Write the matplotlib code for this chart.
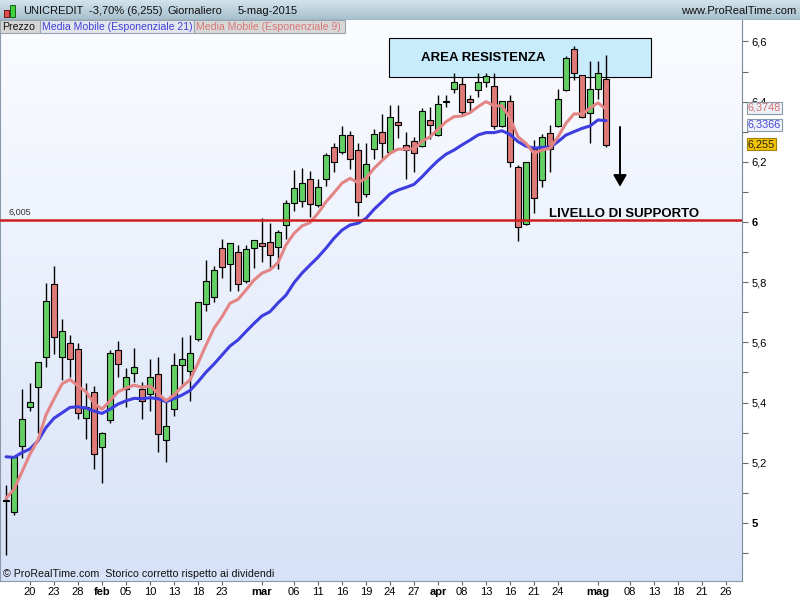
import numpy as np
import matplotlib
matplotlib.use('Agg')
import matplotlib.pyplot as plt
import matplotlib.transforms as mtransforms
from matplotlib import font_manager
from matplotlib.patches import Rectangle
from matplotlib.colors import LinearSegmentedColormap

plt.rcParams['font.family'] = ['Liberation Sans', 'DejaVu Sans']

# daily candles UNICREDIT, 15 gen - 5 mag 2015
dates = ['15-01', '16-01', '19-01', '20-01', '21-01', '22-01', '23-01', '26-01', '27-01', '28-01',
         '29-01', '30-01', '02-02', '03-02', '04-02', '05-02', '06-02', '09-02', '10-02', '11-02',
         '12-02', '13-02', '16-02', '17-02', '18-02', '19-02', '20-02', '23-02', '24-02', '25-02',
         '26-02', '27-02', '02-03', '03-03', '04-03', '05-03', '06-03', '09-03', '10-03', '11-03',
         '12-03', '13-03', '16-03', '17-03', '18-03', '19-03', '20-03', '23-03', '24-03', '25-03',
         '26-03', '27-03', '30-03', '31-03', '01-04', '02-04', '07-04', '08-04', '09-04', '10-04',
         '13-04', '14-04', '15-04', '16-04', '17-04', '20-04', '21-04', '22-04', '23-04', '24-04',
         '27-04', '28-04', '29-04', '30-04', '04-05', '05-05']

opens = [5.078, 5.037, 5.257, 5.386, 5.453, 5.553, 5.794, 5.553, 5.597, 5.577,
         5.348, 5.436, 5.253, 5.342, 5.575, 5.444, 5.497, 5.444, 5.428, 5.494,
         5.276, 5.378, 5.524, 5.504, 5.611, 5.727, 5.752, 5.913, 5.859, 5.899,
         5.804, 5.913, 5.929, 5.933, 5.918, 5.990, 6.062, 6.071, 6.142, 6.056,
         6.142, 6.250, 6.232, 6.288, 6.239, 6.092, 6.242, 6.300, 6.232, 6.331,
         6.256, 6.270, 6.252, 6.339, 6.289, 6.398, 6.441, 6.457, 6.408, 6.437,
         6.464, 6.452, 6.319, 6.402, 6.182, 5.993, 6.242, 6.140, 6.297, 6.319,
         6.439, 6.574, 6.488, 6.361, 6.441, 6.474]
highs = [5.126, 5.220, 5.445, 5.465, 5.534, 5.796, 5.855, 5.677, 5.625, 5.597,
         5.464, 5.455, 5.303, 5.575, 5.605, 5.514, 5.580, 5.469, 5.544, 5.553,
         5.409, 5.566, 5.619, 5.625, 5.733, 5.874, 5.854, 5.944, 5.929, 5.924,
         5.924, 5.940, 6.012, 5.998, 5.972, 6.073, 6.173, 6.178, 6.169, 6.142,
         6.228, 6.263, 6.319, 6.302, 6.263, 6.263, 6.308, 6.358, 6.389, 6.389,
         6.300, 6.281, 6.380, 6.383, 6.422, 6.422, 6.494, 6.483, 6.422, 6.494,
         6.494, 6.494, 6.402, 6.422, 6.190, 6.198, 6.272, 6.292, 6.322, 6.441,
         6.550, 6.585, 6.490, 6.536, 6.536, 6.555]
lows = [4.894, 5.026, 5.216, 5.373, 5.299, 5.517, 5.561, 5.475, 5.486, 5.345,
        5.278, 5.178, 5.134, 5.333, 5.484, 5.384, 5.469, 5.345, 5.373, 5.237,
        5.204, 5.355, 5.453, 5.406, 5.606, 5.705, 5.735, 5.813, 5.772, 5.772,
        5.798, 5.848, 5.868, 5.851, 5.843, 5.943, 6.038, 6.051, 6.018, 6.049,
        6.121, 6.167, 6.226, 6.176, 6.021, 6.082, 6.208, 6.212, 6.228, 6.278,
        6.142, 6.167, 6.248, 6.275, 6.287, 6.383, 6.428, 6.355, 6.366, 6.416,
        6.449, 6.308, 6.315, 6.182, 5.938, 5.990, 6.029, 6.117, 6.167, 6.315,
        6.436, 6.472, 6.345, 6.261, 6.408, 6.248]
closes = [5.073, 5.220, 5.345, 5.403, 5.534, 5.738, 5.617, 5.638, 5.544, 5.364,
          5.384, 5.229, 5.298, 5.566, 5.527, 5.486, 5.517, 5.406, 5.484, 5.295,
          5.323, 5.524, 5.544, 5.564, 5.733, 5.803, 5.841, 5.850, 5.929, 5.793,
          5.909, 5.939, 5.920, 5.889, 5.968, 6.062, 6.112, 6.129, 6.059, 6.117,
          6.222, 6.199, 6.288, 6.208, 6.067, 6.192, 6.291, 6.261, 6.350, 6.321,
          6.239, 6.230, 6.369, 6.322, 6.392, 6.402, 6.464, 6.366, 6.400, 6.464,
          6.485, 6.319, 6.402, 6.200, 5.982, 6.198, 6.079, 6.281, 6.242, 6.408,
          6.544, 6.494, 6.350, 6.441, 6.495, 6.255]

# moving averages
ema21 = [5.220, 5.218, 5.234, 5.246, 5.273, 5.317, 5.348, 5.366, 5.384, 5.386,
         5.382, 5.372, 5.364, 5.378, 5.395, 5.406, 5.414, 5.413, 5.416, 5.413,
         5.403, 5.413, 5.425, 5.440, 5.469, 5.501, 5.528, 5.558, 5.588, 5.608,
         5.636, 5.663, 5.688, 5.702, 5.731, 5.757, 5.798, 5.830, 5.857, 5.883,
         5.913, 5.946, 5.973, 5.990, 5.996, 6.012, 6.042, 6.067, 6.093, 6.106,
         6.115, 6.125, 6.150, 6.178, 6.204, 6.225, 6.239, 6.256, 6.272, 6.289,
         6.297, 6.297, 6.303, 6.291, 6.267, 6.252, 6.245, 6.248, 6.248, 6.267,
         6.289, 6.300, 6.311, 6.319, 6.339, 6.3366]
ema9 = [5.082, 5.112, 5.170, 5.229, 5.276, 5.359, 5.412, 5.462, 5.477, 5.455,
        5.436, 5.398, 5.378, 5.406, 5.436, 5.448, 5.458, 5.451, 5.455, 5.431,
        5.406, 5.425, 5.453, 5.475, 5.531, 5.591, 5.647, 5.685, 5.730, 5.743,
        5.774, 5.807, 5.830, 5.841, 5.865, 5.924, 5.962, 5.987, 5.998, 6.029,
        6.067, 6.097, 6.129, 6.145, 6.131, 6.145, 6.178, 6.204, 6.228, 6.242,
        6.242, 6.243, 6.268, 6.283, 6.308, 6.333, 6.350, 6.352, 6.363, 6.383,
        6.400, 6.386, 6.386, 6.345, 6.283, 6.261, 6.228, 6.239, 6.245, 6.283,
        6.328, 6.359, 6.359, 6.378, 6.396, 6.3748]

# x axis labels (trading-day index)
tick_pos = [3, 6, 9, 12, 15, 18, 21, 24, 27, 32, 36, 39, 42, 45, 48, 51, 54, 57,
            60, 63, 66, 69, 74, 78, 81, 84, 87, 90]
tick_labels = ['20', '23', '28', 'feb', '05', '10', '13', '18', '23', 'mar', '06', '11',
               '16', '19', '24', '27', 'apr', '08', '13', '16', '21', '24', 'mag', '08',
               '13', '18', '21', '26']
months = ['feb', 'mar', 'apr', 'mag']

support = 6.005
resist_low, resist_high = 6.482, 6.611

W, H = 800, 600
fig = plt.figure(figsize=(8, 6), dpi=100)
fig.patch.set_facecolor('white')

def fx(px):
    return px / W

def fy(py):
    return 1 - py / H

installed = {f.name for f in font_manager.fontManager.ttflist}
if 'Liberation Sans Narrow' in installed:
    head_font, head_size = ['Liberation Sans Narrow', 'DejaVu Sans'], 9.5
else:
    head_font, head_size = ['Liberation Sans', 'DejaVu Sans'], 8

ax = fig.add_axes([0, fy(581), fx(742), (581 - 20) / H])
xmin, xmax = -0.75, 92.0
ymin, ymax = 4.8073, 6.6711
ax.set_xlim(xmin, xmax)
ax.set_ylim(ymin, ymax)

# background gradient
bg = LinearSegmentedColormap.from_list('bg', ['#fbfcff', '#d7e2f8'])
ax.imshow(np.linspace(0, 1, 256).reshape(-1, 1), cmap=bg, aspect='auto',
          extent=(xmin, xmax, ymin, ymax), zorder=0)

o = np.array(opens)
h = np.array(highs)
l = np.array(lows)
c = np.array(closes)
x = np.arange(len(o))
up = c >= o

# candles
ax.vlines(x, l, h, color='black', lw=1, zorder=2)
ax.bar(x, np.maximum(np.abs(c - o), 0.005), bottom=np.minimum(o, c), width=0.68,
       color=np.where(up, '#62d062', '#e07a78'), edgecolor='black', linewidth=0.8, zorder=3)

# moving averages
ax.plot(x, ema21, color='#3d3de0', lw=2.2, zorder=4, solid_capstyle='round')
ax.plot(x, ema9, color='#e38585', lw=2.2, zorder=4, solid_capstyle='round')

# support line
ax.axhline(support, color='#cc2020', lw=1.8, zorder=5)
ax.text(0.3, support + 0.012, '6,005', fontsize=6.5, color='#333333', va='bottom', zorder=6)
ax.text(67.9, 6.025, 'LIVELLO DI SUPPORTO', fontsize=9.5, fontweight='bold', va='center', zorder=6)

# resistance area
ax.add_patch(Rectangle((47.9, resist_low), 80.6 - 47.9, resist_high - resist_low,
                       facecolor='#c8ecfb', edgecolor='black', lw=0.8, zorder=1.5))
ax.text(51.9, 6.546, 'AREA RESISTENZA', fontsize=9.5, fontweight='bold', va='center', zorder=6)

# arrow
ax.annotate('', xy=(76.75, 6.108), xytext=(76.75, 6.325),
            arrowprops=dict(arrowstyle='-|>,head_width=0.4,head_length=0.7', color='black', lw=1.4),
            zorder=6)

# axes styling
ax.yaxis.tick_right()
yt = [5.0, 5.2, 5.4, 5.6, 5.8, 6.0, 6.2, 6.4, 6.6]
ax.set_yticks(yt)
ax.set_yticklabels([('%g' % v).replace('.', ',') for v in yt])
ax.set_yticks(np.arange(4.9, 6.7, 0.2), minor=True)
for t, v in zip(ax.get_yticklabels(), yt):
    if v in (5.0, 6.0):
        t.set_fontweight('bold')
ax.tick_params(axis='y', which='both', direction='out', length=4, width=0.8,
               colors='#666666', labelcolor='black', labelsize=8, pad=3)

ax.set_xticks(tick_pos)
ax.set_xticklabels(tick_labels)
for t, lab in zip(ax.get_xticklabels(), tick_labels):
    if lab in months:
        t.set_fontweight('bold')
ax.tick_params(axis='x', direction='out', length=3, width=0.8, colors='#666666',
               labelcolor='black', labelsize=8, pad=1)

ax.spines['top'].set_visible(False)
ax.spines['left'].set_color('#8a9aaa')
ax.spines['right'].set_color('#7a8a9a')
ax.spines['bottom'].set_color('#8a9aaa')

# value flags on the right axis (they cover the 6,4 label as in the original)
blend = mtransforms.blended_transform_factory(ax.transAxes, ax.transData)
flag = dict(transform=blend, fontsize=7.8, va='center', clip_on=False, zorder=10)
ax.text(1.008, ema9[-1] + 0.004, ('%.4f' % ema9[-1]).replace('.', ','), color='#d07070',
        bbox=dict(boxstyle='square,pad=0.12', fc='#eef1f8', ec='#8899aa', lw=0.8), **flag)
ax.text(1.008, ema21[-1] - 0.014, ('%.4f' % ema21[-1]).replace('.', ','), color='#4545d8',
        bbox=dict(boxstyle='square,pad=0.12', fc='#eef1f8', ec='#8899aa', lw=0.8), **flag)
ax.text(1.008, closes[-1] + 0.004, ('%.3f' % closes[-1]).replace('.', ','), color='#222222',
        bbox=dict(boxstyle='square,pad=0.12', fc='#f2c200', ec='#a08000', lw=0.8), **flag)

# header bar
hax = fig.add_axes([0, fy(20), 1, 20 / H])
hdr = LinearSegmentedColormap.from_list('hdr', ['#d3e3ec', '#a6bfcd'])
hax.imshow(np.linspace(0, 1, 64).reshape(-1, 1), cmap=hdr, aspect='auto', extent=(0, 1, 0, 1))
hax.set_xlim(0, 1)
hax.set_ylim(0, 1)
hax.axis('off')
hax.axhline(0.02, color='#7f97a6', lw=1)

# small candle icon
fig.patches.append(Rectangle((fx(4), fy(17)), fx(5), 7 / H, transform=fig.transFigure,
                             facecolor='#e05050', edgecolor='#600000', lw=0.6))
fig.patches.append(Rectangle((fx(10), fy(17)), fx(5), 12 / H, transform=fig.transFigure,
                             facecolor='#40d040', edgecolor='#005000', lw=0.6))

head = dict(fontsize=head_size, va='center', color='#111111', family=head_font)
fig.text(fx(23), fy(10.5), 'UNICREDIT', **head)
fig.text(fx(89), fy(10.5), '-3,70% (6,255)', **head)
fig.text(fx(168), fy(10.5), 'Giornaliero', **head)
fig.text(fx(238), fy(10.5), '5-mag-2015', **head)
fig.text(fx(796), fy(10.5), 'www.ProRealTime.com', ha='right', **head)

# legend tabs
tabs = [(0, 40, 'Prezzo', '#111111', '#d6d6d6'),
        (40, 194, 'Media Mobile (Esponenziale 21)', '#4040d8', '#e4e6ee'),
        (194, 345, 'Media Mobile (Esponenziale 9)', '#d87878', '#d8d8d8')]
for x0, x1, lab, tc, fc in tabs:
    fig.patches.append(Rectangle((fx(x0), fy(33)), fx(x1 - x0), 13 / H, transform=fig.transFigure,
                                 facecolor=fc, edgecolor='#9aa4ae', lw=0.8))
    fig.text(fx(x0 + 2), fy(27), lab, fontsize=7.6, va='center', color=tc)

fig.text(fx(3), fy(574), '\u00a9 ProRealTime.com  Storico corretto rispetto ai dividendi',
         fontsize=7.7, va='center', color='#111111')

fig.savefig('out.png', dpi=100)
